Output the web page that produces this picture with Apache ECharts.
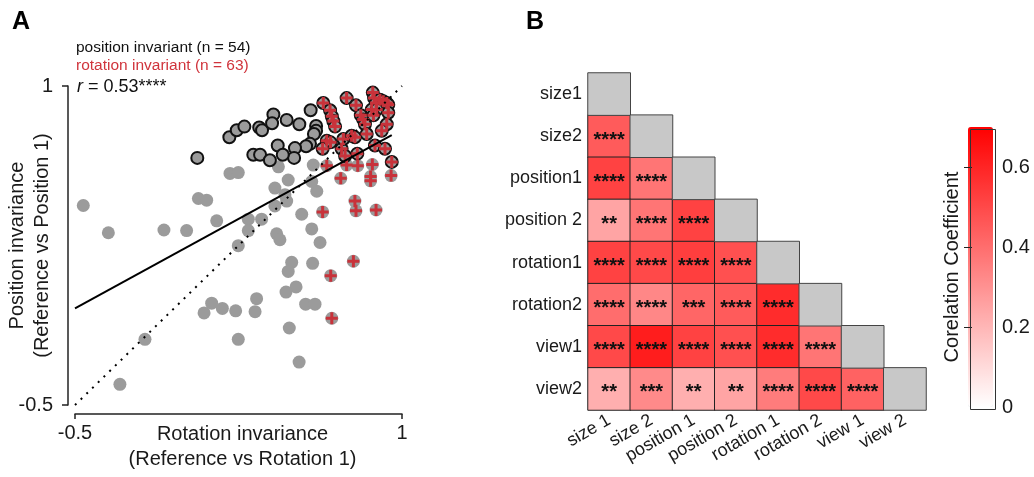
<!DOCTYPE html>
<html>
<head>
<meta charset="utf-8">
<script src="https://cdn.jsdelivr.net/npm/echarts@6/dist/echarts.min.js"></script>
<style>
html,body{margin:0;padding:0;background:#fff;}
#c{width:1034px;height:477px;}
</style>
</head>
<body>
<div id="c"></div>
<script>
// ---------- Panel A data ----------
const grayOnly = [
  [-0.462,0.438],[-0.347,0.310],[-0.294,-0.403],[-0.179,-0.191],[-0.092,0.323],[0.012,0.320],
  [0.066,0.471],[0.104,0.463],[0.150,0.366],[0.211,0.589],[0.249,0.593],[0.249,0.249],
  [0.295,0.374],[0.295,0.320],[0.356,0.374],[0.417,0.520],[0.463,0.489],[0.471,0.459],
  [0.417,0.436],[0.478,0.558],[0.433,0.620],[0.540,0.397],[0.609,0.505],[0.586,0.551],
  [0.593,0.628],[0.586,0.328],[0.624,0.264],[0.425,0.305],[0.440,0.277],[0.494,0.171],
  [0.590,0.166],[0.478,0.128],[0.514,0.055],[0.468,0.031],[0.558,-0.026],[0.601,-0.026],
  [0.333,0.000],[0.127,-0.021],[0.176,-0.046],[0.092,-0.067],[0.237,-0.057],[0.326,-0.061],
  [0.483,-0.138],[0.249,-0.191],[0.528,-0.298]
];
const posOnly = [
  [0.061,0.662],[0.208,0.759],[0.242,0.792],[0.277,0.809],[0.345,0.805],[0.358,0.792],
  [0.410,0.866],[0.404,0.825],[0.471,0.840],[0.529,0.820],[0.581,0.886],[0.606,0.812],
  [0.606,0.789],[0.596,0.774],[0.578,0.728],[0.560,0.717],[0.509,0.708],[0.505,0.662],
  [0.430,0.720],[0.318,0.677],[0.349,0.677],[0.394,0.651],[0.453,0.677]
];
const bothInv = [
  [0.639,0.920],[0.670,0.886],[0.678,0.858],[0.685,0.835],[0.693,0.809],[0.655,0.743],
  [0.672,0.735],[0.636,0.705],[0.723,0.705],[0.739,0.671],[0.731,0.751],[0.769,0.766],
  [0.784,0.759],[0.795,0.682],[0.746,0.943],[0.789,0.909],[0.811,0.863],[0.822,0.843],
  [0.830,0.820],[0.838,0.774],[0.866,0.969],[0.872,0.943],[0.881,0.920],[0.899,0.935],
  [0.914,0.928],[0.930,0.920],[0.937,0.912],[0.937,0.874],[0.930,0.820],[0.907,0.789],
  [0.876,0.720],[0.922,0.705],[0.953,0.643],[0.861,0.889],[0.884,0.889],[0.869,0.862]
];
const rotOnly = [
  [0.655,0.625],[0.746,0.628],[0.797,0.625],[0.864,0.631],[0.719,0.566],[0.856,0.574],
  [0.856,0.554],[0.950,0.579],[0.784,0.459],[0.789,0.413],[0.881,0.417],[0.636,0.408],
  [0.777,0.176],[0.673,0.108],[0.678,-0.092]
];
const fitLine = [[-0.5,-0.046],[0.953,0.769]];
const unityLine = [[-0.5,-0.5],[1,1]];
const axisTicksA = [-0.5, 1];

// ---------- Panel B data ----------
const heatRows = ['size1','size2','position1','position 2','rotation1','rotation2','view1','view2'];
const heatCols = ['size 1','size 2','position 1','position 2','rotation 1','rotation 2','view 1','view 2'];
const corrValues = [
  [],
  [0.45],
  [0.52,0.38],
  [0.25,0.38,0.52],
  [0.52,0.50,0.53,0.48],
  [0.40,0.33,0.42,0.45,0.58],
  [0.50,0.62,0.52,0.48,0.58,0.38],
  [0.22,0.32,0.22,0.25,0.36,0.50,0.43]
];
const corrStars = [
  [],
  ['****'],
  ['****','****'],
  ['**','****','****'],
  ['****','****','****','****'],
  ['****','****','***','****','****'],
  ['****','****','****','****','****','****'],
  ['**','***','**','**','****','****','****']
];
const colorbarTicks = [0, 0.2, 0.4, 0.6];
const colorbarMax = 0.7;

// ---------- build ----------
const FONT = '"Liberation Sans", Arial, Helvetica, sans-serif';
const TXT = '#1a1a1a';
const lowerData = [];
corrValues.forEach((row, r) => row.forEach((v, c) => lowerData.push({value:[c, r, v], stars: corrStars[r][c]})));
const diagData = heatRows.map((_, i) => [i, i, 0]);

const plusPath = 'path://M4.5,0H7.5V4.5H12V7.5H7.5V12H4.5V7.5H0V4.5H4.5Z';
const chart = echarts.init(document.getElementById('c'), null, {renderer:'canvas'});

chart.setOption({
  animation: false,
  backgroundColor: '#fff',
  textStyle: {fontFamily: FONT},
  grid: [
    {left: 75, top: 86, width: 327, height: 325},
    {left: 588, top: 73, width: 338, height: 337},
    {left: 968, top: 127, width: 25, height: 280}
  ],
  xAxis: [
    {
      type: 'value', gridIndex: 0, min: -0.5, max: 1, offset: 9,
      axisLine: {show: true, onZero: false, lineStyle: {color: '#222', width: 1.5}},
      axisTick: {show: true, length: 5, customValues: axisTicksA, lineStyle: {color: '#222', width: 1.5}},
      axisLabel: {customValues: axisTicksA, formatter: v => String(v), fontSize: 20, color: TXT, margin: 9, fontFamily: FONT},
      splitLine: {show: false},
      name: 'Rotation invariance\n(Reference vs Rotation 1)',
      nameLocation: 'middle', nameGap: 8, nameMoveOverlap: false,
      nameTextStyle: {fontSize: 20, lineHeight: 25, color: TXT, fontFamily: FONT, padding: [0, 0, 0, 8]}
    },
    {
      type: 'category', gridIndex: 1, data: heatCols,
      axisLine: {show: false}, axisTick: {show: false},
      axisLabel: {interval: 0, rotate: 30, fontSize: 18, color: TXT, margin: 9, fontFamily: FONT},
      splitLine: {show: false}
    },
    {
      type: 'value', gridIndex: 2, min: 0, max: 1, show: false
    }
  ],
  yAxis: [
    {
      type: 'value', gridIndex: 0, min: -0.5, max: 1, offset: 7,
      axisLine: {show: true, onZero: false, lineStyle: {color: '#222', width: 1.5}},
      axisTick: {show: true, length: 6, customValues: axisTicksA, lineStyle: {color: '#222', width: 1.5}},
      axisLabel: {customValues: axisTicksA, formatter: v => String(v), fontSize: 20, color: TXT, margin: 15, fontFamily: FONT},
      splitLine: {show: false},
      name: 'Position invariance\n(Reference vs Position 1)',
      nameLocation: 'middle', nameGap: 13, nameRotate: 90, nameMoveOverlap: false,
      nameTextStyle: {fontSize: 20, lineHeight: 25, color: TXT, fontFamily: FONT}
    },
    {
      type: 'category', gridIndex: 1, data: heatRows, inverse: true,
      axisLine: {show: false}, axisTick: {show: false},
      axisLabel: {fontSize: 18, color: TXT, margin: 6, fontFamily: FONT},
      splitLine: {show: false}
    },
    {
      type: 'value', gridIndex: 2, min: 0, max: colorbarMax, position: 'right', z: 10,
      axisLine: {show: false},
      axisTick: {show: true, inside: true, length: 4, customValues: colorbarTicks.slice(1), lineStyle: {color: '#222'}},
      axisLabel: {customValues: colorbarTicks, formatter: v => String(v), fontSize: 20, color: TXT, margin: 9, fontFamily: FONT},
      splitLine: {show: false}
    },
    {
      type: 'value', gridIndex: 2, min: 0, max: colorbarMax, position: 'left', z: 10,
      axisLine: {show: false},
      axisTick: {show: true, inside: true, length: 4, customValues: colorbarTicks.slice(1), lineStyle: {color: '#222'}},
      axisLabel: {show: false},
      splitLine: {show: false},
      name: 'Corelation Coefficient', nameLocation: 'middle', nameRotate: 90, nameGap: 6, nameMoveOverlap: false,
      nameTextStyle: {fontSize: 20, color: TXT, fontFamily: FONT}
    }
  ],
  visualMap: {
    type: 'continuous', min: 0, max: colorbarMax, seriesIndex: 6,
    left: 968, top: 127, itemWidth: 25, itemHeight: 280, padding: 0,
    calculable: false, hoverLink: false, text: null, z: 2,
    inRange: {color: ['#ffffff', '#ff0000']}
  },
  graphic: [
    {type: 'text', left: 12, top: 10, z: 100, style: {text: 'A', font: 'bold 25px ' + FONT, fill: '#000'}},
    {type: 'text', left: 526, top: 10, z: 100, style: {text: 'B', font: 'bold 25px ' + FONT, fill: '#000'}},
    {type: 'text', left: 76, top: 40, z: 100, style: {text: 'position invariant (n = 54)', font: '15.5px ' + FONT, fill: '#111'}},
    {type: 'text', left: 76, top: 58, z: 100, style: {text: 'rotation invariant (n = 63)', font: '15.5px ' + FONT, fill: '#d0343c'}},
    {type: 'text', left: 77, top: 78, z: 100, style: {
      text: '{i|r} = 0.53****', font: '18px ' + FONT, fill: '#111',
      rich: {i: {fontStyle: 'italic', fontSize: 18, fontFamily: FONT, fill: '#111'}}
    }},
    {type: 'rect', left: 968, top: 127, z: 50, shape: {width: 25, height: 280}, style: {fill: 'none', stroke: '#333', lineWidth: 1}}
  ],
  series: [
    {
      type: 'scatter', xAxisIndex: 0, yAxisIndex: 0, data: grayOnly, symbol: 'circle', symbolSize: 13,
      itemStyle: {color: '#9b9b9b', opacity: 1}, z: 2
    },
    {
      type: 'scatter', xAxisIndex: 0, yAxisIndex: 0, data: rotOnly, symbol: 'circle', symbolSize: 13,
      itemStyle: {color: '#9b9b9b', opacity: 1}, z: 2
    },
    {
      type: 'scatter', xAxisIndex: 0, yAxisIndex: 0, data: posOnly.concat(bothInv), symbol: 'circle', symbolSize: 12,
      itemStyle: {color: '#9b9b9b', borderColor: '#111', borderWidth: 2, opacity: 1}, z: 3
    },
    {
      type: 'scatter', xAxisIndex: 0, yAxisIndex: 0, data: bothInv.concat(rotOnly), symbol: plusPath, symbolSize: 12,
      itemStyle: {color: '#c8323a', opacity: 1}, z: 4
    },
    {
      type: 'line', xAxisIndex: 0, yAxisIndex: 0, data: fitLine, symbol: 'none',
      lineStyle: {color: '#000', width: 2}, z: 5
    },
    {
      type: 'line', xAxisIndex: 0, yAxisIndex: 0, data: unityLine, symbol: 'none',
      lineStyle: {color: '#000', width: 2, type: [2, 6]}, z: 5
    },
    {
      type: 'heatmap', xAxisIndex: 1, yAxisIndex: 1, data: lowerData,
      itemStyle: {borderColor: '#222', borderWidth: 1},
      label: {show: true, formatter: p => p.data.stars, fontSize: 20, fontWeight: 'bold', color: '#111', offset: [0, 4], fontFamily: FONT},
      emphasis: {disabled: true}
    },
    {
      type: 'heatmap', xAxisIndex: 1, yAxisIndex: 1, data: diagData,
      itemStyle: {color: '#c8c8c8', borderColor: '#444', borderWidth: 1},
      label: {show: false},
      emphasis: {disabled: true}
    }
  ]
});
</script>
</body>
</html>
